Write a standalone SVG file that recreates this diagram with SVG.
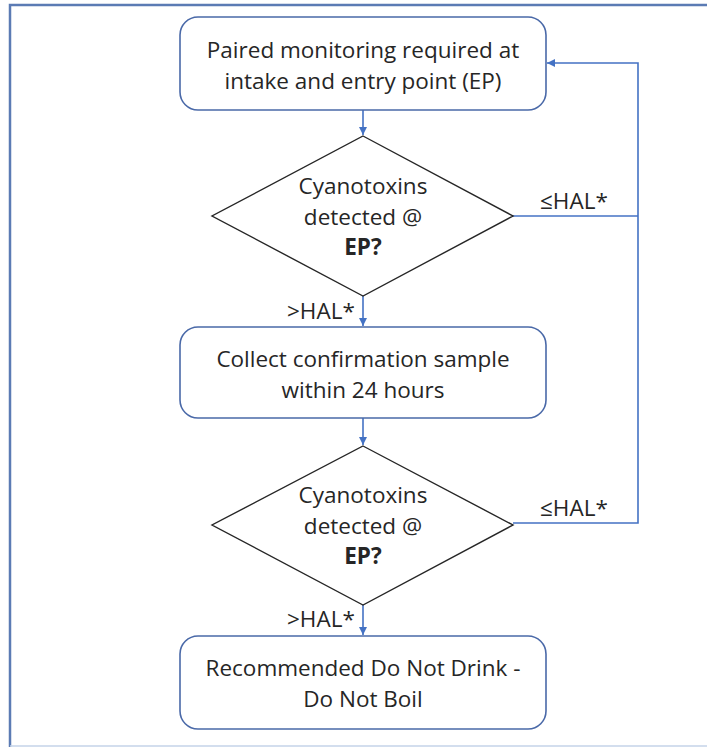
<svg xmlns="http://www.w3.org/2000/svg" width="707" height="747" viewBox="0 0 707 747">
<defs>
<marker id="ah" viewBox="0 0 10 10" refX="10" refY="5" markerWidth="8" markerHeight="8" markerUnits="userSpaceOnUse" orient="auto">
<path d="M0,0 L10,5 L0,10 z" fill="#4472c4"/>
</marker>
</defs>
<style>
.box{fill:#fff;stroke:#4a69a8;stroke-width:1.6}
.dia{fill:#fff;stroke:#262626;stroke-width:1.4}
.t{font-family:"Open Sans","Liberation Sans",sans-serif;font-size:22.5px;fill:#262626;text-anchor:middle}
.b{font-weight:bold}
.c{fill:none;stroke:#4472c4;stroke-width:1.6}
.l{font-family:"Open Sans","Liberation Sans",sans-serif;font-size:22.5px;fill:#262626}
</style>
<rect width="707" height="747" fill="#fff"/>
<path d="M10,747 V5 H707" fill="none" stroke="#5b7bb4" stroke-width="2.5"/>
<line x1="10" y1="746" x2="707" y2="746" stroke="#c5d3e8" stroke-width="1.5"/>
<g id="connectors">
<line class="c" x1="363" y1="110" x2="363" y2="135" marker-end="url(#ah)"/>
<line class="c" x1="363" y1="296" x2="363" y2="326" marker-end="url(#ah)"/>
<line class="c" x1="363" y1="418" x2="363" y2="445" marker-end="url(#ah)"/>
<line class="c" x1="363" y1="605" x2="363" y2="635" marker-end="url(#ah)"/>
<polyline class="c" points="513,216 638,216"/>
<polyline class="c" points="513,523 638,523 638,63 547,63" marker-end="url(#ah)"/>
<text class="l" x="540" y="209">≤HAL*</text>
<text class="l" x="540" y="516">≤HAL*</text>
<text class="l" x="287" y="319">&gt;HAL*</text>
<text class="l" x="287" y="627">&gt;HAL*</text>
</g>
<g id="n1">
<rect class="box" x="180" y="17" width="366" height="93" rx="18"/>
<text class="t" x="363" y="58">Paired monitoring required at</text>
<text class="t" x="363" y="89">intake and entry point (EP)</text>
</g>
<g id="n2">
<polygon class="dia" points="363,136 513,216 363,296 212,216"/>
<text class="t" x="363" y="194">Cyanotoxins</text>
<text class="t" x="363" y="225">detected @</text>
<text class="t b" x="363" y="255">EP?</text>
</g>
<g id="n3">
<rect class="box" x="180" y="327" width="366" height="91" rx="18"/>
<text class="t" x="363" y="367">Collect confirmation sample</text>
<text class="t" x="363" y="398">within 24 hours</text>
</g>
<g id="n4">
<polygon class="dia" points="363,446 513,525 363,605 212,525"/>
<text class="t" x="363" y="503">Cyanotoxins</text>
<text class="t" x="363" y="534">detected @</text>
<text class="t b" x="363" y="564">EP?</text>
</g>
<g id="n5">
<rect class="box" x="180" y="636" width="366" height="93" rx="18"/>
<text class="t" x="363" y="676">Recommended Do Not Drink -</text>
<text class="t" x="363" y="707">Do Not Boil</text>
</g>
</svg>
